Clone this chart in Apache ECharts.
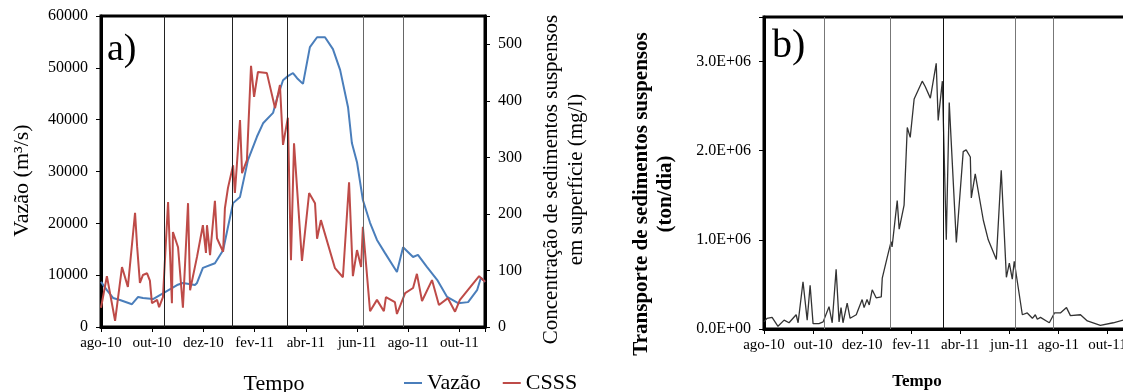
<!DOCTYPE html>
<html>
<head>
<meta charset="utf-8">
<script src="https://cdn.jsdelivr.net/npm/echarts@6/dist/echarts.min.js"></script>
<style>
    html, body { margin: 0; padding: 0; background: #fff; }
    #chart { width: 1123px; height: 392px; }
</style>
</head>
<body>
<div id="chart"></div>
<script>
// eixo x em meses desde ago-10 (0 = ago-10, 15 = nov-11)
const monthTicks = ['ago-10', 'out-10', 'dez-10', 'fev-11', 'abr-11', 'jun-11', 'ago-11', 'out-11'];
// linhas verticais que separam os períodos
const divisions = [2.47, 5.14, 7.29, 10.23, 11.8];

// a) Vazão (m³/s)
const vazaoX = [0, 0.23, 0.47, 0.74, 1.21, 1.45, 1.64, 2.03, 2.42, 2.97, 3.2, 3.67, 3.75, 3.98, 4.45, 4.77, 4.96, 5.16, 5.43, 5.74, 6.09, 6.33, 6.72, 6.88, 7.11, 7.3, 7.5, 7.66, 7.89, 8.16, 8.44, 8.75, 9.06, 9.34, 9.65, 9.8, 10.0, 10.23, 10.51, 10.78, 11.09, 11.56, 11.8, 12.19, 12.38, 12.73, 13.13, 13.52, 13.95, 14.34, 14.69, 14.84, 15.0];
const vazaoY = [8700, 7100, 5600, 5200, 4400, 5800, 5600, 5400, 6500, 8100, 8500, 8100, 8500, 11400, 12300, 14800, 19300, 23900, 25100, 32200, 36700, 39300, 41300, 44200, 47600, 48400, 49000, 48000, 46900, 54000, 55900, 55900, 53600, 49600, 42400, 35500, 31800, 24500, 20100, 16800, 14300, 10600, 15400, 13500, 13900, 11600, 9100, 5800, 4600, 4800, 7100, 9500, 8700];

// a) CSSS (mg/l)
const csssX = [0, 0.23, 0.55, 0.82, 1.05, 1.33, 1.41, 1.52, 1.64, 1.8, 1.91, 1.99, 2.19, 2.27, 2.42, 2.62, 2.77, 2.81, 3.01, 3.2, 3.4, 3.48, 3.75, 3.98, 4.1, 4.14, 4.26, 4.45, 4.53, 4.77, 4.84, 4.96, 5.16, 5.23, 5.43, 5.51, 5.7, 5.86, 5.98, 6.05, 6.13, 6.48, 6.8, 6.99, 7.11, 7.3, 7.42, 7.54, 7.85, 8.13, 8.36, 8.44, 8.59, 9.14, 9.45, 9.69, 9.84, 10.0, 10.16, 10.23, 10.51, 10.78, 11.05, 11.13, 11.48, 11.56, 11.88, 12.19, 12.34, 12.54, 12.93, 13.2, 13.55, 13.83, 14.02, 14.77, 15.0];
const csssY = [34, 90, 11, 106, 71, 202, 143, 78, 92, 95, 82, 42, 48, 35, 53, 221, 42, 168, 141, 34, 219, 65, 124, 180, 131, 180, 127, 223, 157, 133, 210, 246, 286, 237, 366, 272, 295, 462, 407, 407, 451, 449, 387, 428, 322, 370, 118, 325, 117, 237, 219, 156, 189, 104, 88, 256, 90, 136, 106, 177, 28, 48, 28, 53, 44, 23, 60, 69, 94, 46, 83, 39, 51, 27, 48, 90, 80];

// b) Transporte de sedimentos suspensos (ton/dia)
const transX = [0, 0.12, 0.33, 0.57, 0.82, 1.02, 1.31, 1.39, 1.59, 1.76, 1.88, 2.0, 2.24, 2.41, 2.65, 2.78, 2.94, 3.06, 3.14, 3.22, 3.39, 3.51, 3.76, 4.0, 4.08, 4.2, 4.29, 4.41, 4.57, 4.78, 4.82, 5.02, 5.18, 5.22, 5.43, 5.51, 5.71, 5.84, 5.96, 6.12, 6.2, 6.45, 6.57, 6.78, 7.02, 7.1, 7.27, 7.43, 7.55, 7.84, 8.12, 8.24, 8.41, 8.45, 8.61, 8.94, 9.14, 9.47, 9.67, 9.88, 10.0, 10.12, 10.2, 10.53, 10.73, 10.94, 11.06, 11.14, 11.27, 11.51, 11.63, 11.84, 12.08, 12.33, 12.49, 12.9, 13.18, 13.71, 14.24, 14.65, 15.0];
const transY = [80000, 120000, 130000, 30000, 100000, 70000, 160000, 70000, 530000, 100000, 490000, 60000, 60000, 80000, 250000, 70000, 670000, 80000, 240000, 70000, 290000, 120000, 160000, 330000, 240000, 330000, 270000, 440000, 350000, 360000, 570000, 800000, 980000, 920000, 1440000, 1120000, 1390000, 2260000, 2150000, 2580000, 2570000, 2780000, 2720000, 2590000, 2980000, 2340000, 2780000, 1000000, 2540000, 970000, 1990000, 2010000, 1930000, 1470000, 1740000, 1220000, 1000000, 780000, 1780000, 580000, 740000, 560000, 760000, 160000, 180000, 120000, 160000, 110000, 130000, 90000, 70000, 180000, 180000, 240000, 150000, 160000, 90000, 40000, 70000, 100000, 130000];

const serif = "'Liberation Serif', 'Times New Roman', serif";
const zip = (xs, ys) => xs.map((x, i) => [x, ys[i]]);

function monthAxis(gridIndex, fontSize) {
    return {
        type: 'value',
        gridIndex: gridIndex,
        min: 0,
        max: 15,
        interval: 2,
        splitLine: { show: false },
        axisLine: { lineStyle: { color: '#000', width: 3 } },
        axisTick: { length: 5, lineStyle: { color: '#000' } },
        axisLabel: {
            margin: 9,
            color: '#000',
            fontFamily: serif,
            fontSize: fontSize,
            formatter: (v) => (v % 2 === 0 && monthTicks[v / 2]) || ''
        }
    };
}

function divisionLines(colors) {
    return {
        symbol: 'none',
        silent: true,
        label: { show: false },
        animation: false,
        data: divisions.map((d, i) => ({ xAxis: d, lineStyle: { color: colors[i], width: 1, type: 'solid' } }))
    };
}

const chart = echarts.init(document.getElementById('chart'));
chart.setOption({
    animation: false,
    backgroundColor: '#fff',
    grid: [
        { left: 101, top: 16, width: 384, height: 311, outerBoundsMode: 'none', show: true, borderColor: '#000', borderWidth: 3 },
        { left: 764, top: 17, width: 368, height: 312, outerBoundsMode: 'none', show: true, borderColor: '#000', borderWidth: 3 }
    ],
    xAxis: [monthAxis(0, 15), monthAxis(1, 15)],
    yAxis: [
        {
            type: 'value',
            gridIndex: 0,
            min: 0,
            max: 60000,
            interval: 10000,
            splitLine: { show: false },
            axisLine: { show: true, lineStyle: { color: '#000', width: 3 } },
            axisTick: { show: true, length: 5, lineStyle: { color: '#000' } },
            axisLabel: { margin: 13, color: '#000', fontFamily: serif, fontSize: 16, formatter: (v) => String(v) },
            name: 'Vazão (m³/s)',
            nameLocation: 'middle',
            nameGap: 68,
            nameTextStyle: { color: '#000', fontFamily: serif, fontSize: 22, padding: [0, 18, 0, 0] }
        },
        {
            type: 'value',
            gridIndex: 0,
            position: 'right',
            min: 0,
            max: 550,
            interval: 100,
            splitLine: { show: false },
            axisLine: { show: true, lineStyle: { color: '#000', width: 3 } },
            axisTick: { show: true, length: 5, lineStyle: { color: '#000' } },
            axisLabel: {
                margin: 13,
                color: '#000',
                fontFamily: serif,
                fontSize: 16,
                formatter: (v) => (v % 100 === 0 ? String(v) : '')
            },
            name: 'Concentração de sedimentos suspensos\nem superfície (mg/l)',
            nameLocation: 'middle',
            nameRotate: 90,
            nameGap: 54,
            nameTextStyle: { color: '#000', fontFamily: serif, fontSize: 21, lineHeight: 25, padding: [0, 16, 0, 0] }
        },
        {
            type: 'value',
            gridIndex: 1,
            min: 0,
            max: 3500000,
            interval: 1000000,
            splitLine: { show: false },
            axisLine: { show: true, lineStyle: { color: '#000', width: 3 } },
            axisTick: { show: true, length: 5, lineStyle: { color: '#000' } },
            axisLabel: {
                margin: 13,
                color: '#000',
                fontFamily: serif,
                fontSize: 16,
                formatter: (v) => (v % 1000000 === 0 ? (v / 1000000).toFixed(1) + (v === 0 ? 'E+00' : 'E+06') : '')
            },
            name: 'Transporte de sedimentos suspensos\n(ton/dia)',
            nameLocation: 'middle',
            nameGap: 86,
            nameTextStyle: { color: '#000', fontFamily: serif, fontSize: 21, fontWeight: 'bold', lineHeight: 24, padding: [0, 42, 0, 0] }
        }
    ],
    legend: {
        data: ['Vazão', 'CSSS'],
        left: 404,
        top: 372,
        padding: 0,
        icon: 'rect',
        itemWidth: 18,
        itemHeight: 2,
        itemGap: 22,
        textStyle: { color: '#000', fontFamily: serif, fontSize: 22 }
    },
    graphic: [
        { type: 'text', left: 107, top: 31, style: { text: 'a)', font: '38px ' + serif, fill: '#000' } },
        { type: 'text', left: 772, top: 26, style: { text: 'b)', font: '40px ' + serif, fill: '#000' } },
        { type: 'text', x: 274, y: 384, style: { text: 'Tempo', font: '22px ' + serif, fill: '#000', textAlign: 'center', textVerticalAlign: 'middle' } },
        { type: 'text', x: 917, y: 382, style: { text: 'Tempo', font: 'bold 17px ' + serif, fill: '#000', textAlign: 'center', textVerticalAlign: 'middle' } }
    ],
    series: [
        {
            name: 'Vazão',
            type: 'line',
            xAxisIndex: 0,
            yAxisIndex: 0,
            showSymbol: false,
            color: '#4a7ebb',
            lineStyle: { width: 2 },
            data: zip(vazaoX, vazaoY),
            markLine: divisionLines(['#222', '#222', '#222', '#666', '#666'])
        },
        {
            name: 'CSSS',
            type: 'line',
            xAxisIndex: 0,
            yAxisIndex: 1,
            showSymbol: false,
            color: '#be4b48',
            lineStyle: { width: 2 },
            data: zip(csssX, csssY)
        },
        {
            name: 'Transporte',
            type: 'line',
            xAxisIndex: 1,
            yAxisIndex: 2,
            showSymbol: false,
            color: '#333',
            lineStyle: { width: 1.3 },
            data: zip(transX, transY),
            markLine: divisionLines(['#777', '#777', '#111', '#777', '#777'])
        }
    ]
});
</script>
</body>
</html>
